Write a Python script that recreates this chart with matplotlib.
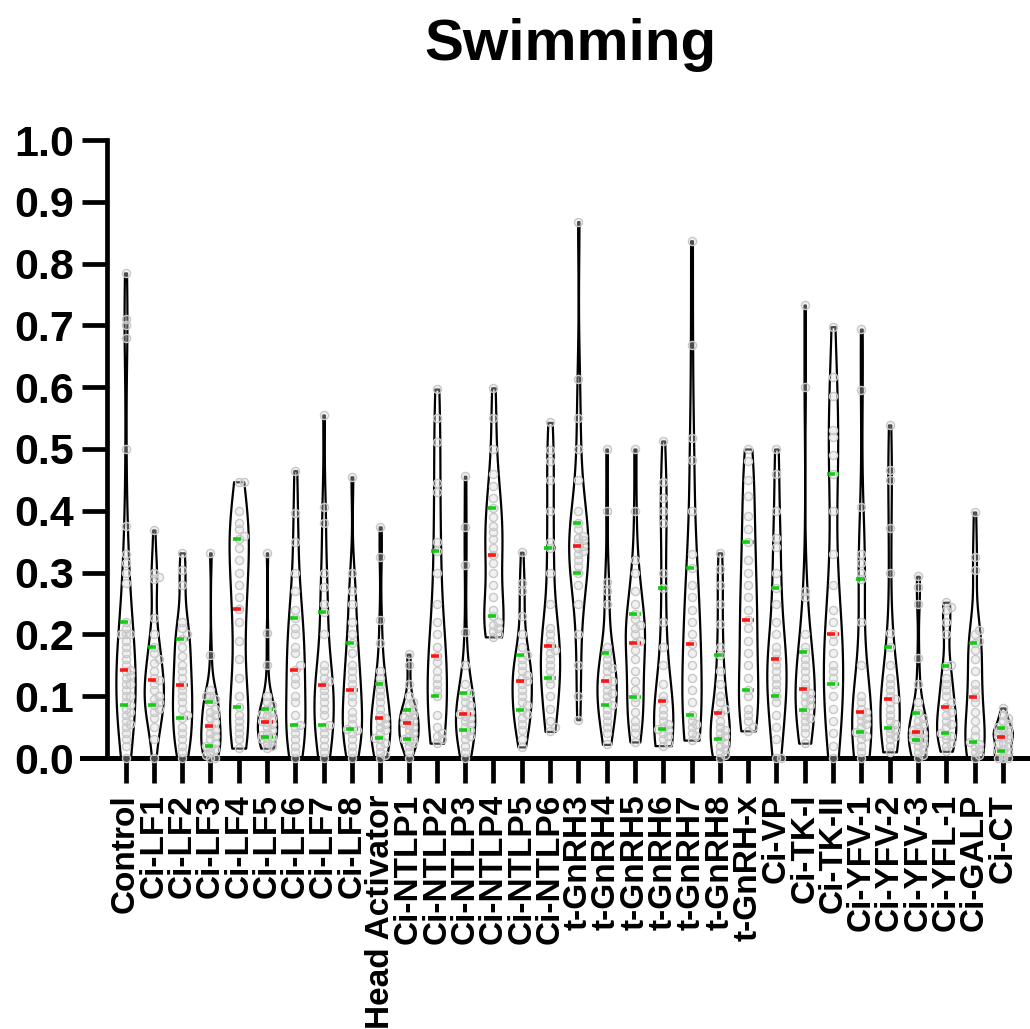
import numpy as np
import matplotlib.pyplot as plt

# values (fraction of time swimming)
categories = ['Control', 'Ci-LF1', 'Ci-LF2', 'Ci-LF3', 'Ci-LF4', 'Ci-LF5', 'Ci-LF6',
              'Ci-LF7', 'Ci-LF8', 'Head Activator', 'Ci-NTLP1', 'Ci-NTLP2', 'Ci-NTLP3',
              'Ci-NTLP4', 'Ci-NTLP5', 'Ci-NTLP6', 't-GnRH3', 't-GnRH4', 't-GnRH5',
              't-GnRH6', 't-GnRH7', 't-GnRH8', 't-GnRH-x', 'Ci-VP', 'Ci-TK-I', 'Ci-TK-II',
              'Ci-YFV-1', 'Ci-YFV-2', 'Ci-YFV-3', 'Ci-YFL-1', 'Ci-GALP', 'Ci-CT']

control = [0.0, 0.02, 0.03, 0.04, 0.05, 0.055, 0.06, 0.07, 0.075, 0.08, 0.085,
           0.09, 0.10, 0.10, 0.11, 0.12, 0.12, 0.13, 0.135, 0.14, 0.143,
           0.15, 0.16, 0.17, 0.18, 0.19, 0.20, 0.20, 0.20, 0.21, 0.22,
           0.283, 0.30, 0.315, 0.33, 0.375, 0.50, 0.68, 0.70, 0.71, 0.785]
ci_lf1 = [0.0, 0.03, 0.05, 0.065, 0.075, 0.08, 0.086, 0.09, 0.095, 0.10, 0.11, 0.12, 0.126,
          0.13, 0.14, 0.153, 0.16, 0.17, 0.18, 0.20, 0.226, 0.29, 0.293, 0.30, 0.369]
ci_lf2 = [0.0, 0.01, 0.02, 0.03, 0.04, 0.05, 0.065, 0.07, 0.08, 0.09, 0.10, 0.11, 0.118,
          0.13, 0.14, 0.15, 0.165, 0.18, 0.193, 0.20, 0.21, 0.22, 0.28, 0.304, 0.332]
ci_lf3 = [0.0, 0.0, 0.005, 0.01, 0.015, 0.018, 0.02, 0.025, 0.03, 0.035, 0.04, 0.045, 0.052,
          0.058, 0.065, 0.07, 0.075, 0.08, 0.09, 0.095, 0.10, 0.10, 0.11, 0.167, 0.332]
ci_lf4 = [0.016, 0.03, 0.04, 0.05, 0.06, 0.07, 0.083, 0.10, 0.13, 0.16, 0.19, 0.22, 0.241,
          0.26, 0.28, 0.30, 0.32, 0.34, 0.355, 0.36, 0.37, 0.38, 0.40, 0.447, 0.447]
ci_lf5 = [0.016, 0.02, 0.025, 0.028, 0.03, 0.032, 0.034, 0.038, 0.04, 0.045, 0.05, 0.055, 0.058,
          0.06, 0.065, 0.07, 0.072, 0.075, 0.08, 0.085, 0.09, 0.10, 0.15, 0.202, 0.332]
ci_lf6 = [0.0, 0.01, 0.02, 0.03, 0.04, 0.05, 0.054, 0.07, 0.09, 0.10, 0.12, 0.13, 0.143,
          0.15, 0.17, 0.18, 0.20, 0.21, 0.226, 0.24, 0.27, 0.30, 0.35, 0.396, 0.465]
ci_lf7 = [0.0, 0.01, 0.02, 0.03, 0.04, 0.05, 0.053, 0.07, 0.08, 0.09, 0.10, 0.11, 0.118,
          0.125, 0.13, 0.14, 0.15, 0.20, 0.236, 0.25, 0.277, 0.30, 0.38, 0.406, 0.555]
ci_lf8 = [0.0, 0.01, 0.02, 0.03, 0.04, 0.045, 0.047, 0.055, 0.065, 0.075, 0.09, 0.10, 0.11,
          0.12, 0.13, 0.14, 0.15, 0.17, 0.186, 0.20, 0.22, 0.25, 0.27, 0.30, 0.455]
head_activator = [0.0, 0.005, 0.01, 0.02, 0.025, 0.03, 0.032, 0.04, 0.045, 0.05, 0.055, 0.06,
                  0.065, 0.07, 0.08, 0.09, 0.10, 0.11, 0.12, 0.13, 0.14, 0.186, 0.223, 0.325, 0.374]
ci_ntlp1 = [0.0, 0.01, 0.02, 0.025, 0.028, 0.03, 0.03, 0.035, 0.04, 0.045, 0.05, 0.053, 0.056,
            0.06, 0.063, 0.066, 0.07, 0.075, 0.078, 0.085, 0.09, 0.10, 0.12, 0.15, 0.168]
ci_ntlp2 = [0.024, 0.03, 0.035, 0.04, 0.05, 0.07, 0.10, 0.11, 0.12, 0.13, 0.14, 0.155, 0.165,
            0.18, 0.20, 0.22, 0.25, 0.30, 0.335, 0.35, 0.43, 0.445, 0.512, 0.55, 0.597]
ci_ntlp3 = [0.0, 0.01, 0.02, 0.03, 0.035, 0.04, 0.045, 0.05, 0.055, 0.06, 0.065, 0.068, 0.071,
            0.075, 0.08, 0.085, 0.09, 0.10, 0.105, 0.12, 0.15, 0.204, 0.312, 0.374, 0.456]
ci_ntlp4 = [0.196, 0.20, 0.205, 0.21, 0.215, 0.22, 0.229, 0.24, 0.26, 0.28, 0.30, 0.315, 0.329,
            0.34, 0.355, 0.365, 0.375, 0.39, 0.405, 0.42, 0.44, 0.46, 0.50, 0.55, 0.599]
ci_ntlp5 = [0.018, 0.03, 0.045, 0.055, 0.065, 0.072, 0.078, 0.085, 0.09, 0.10, 0.11, 0.12, 0.125,
            0.13, 0.135, 0.14, 0.15, 0.16, 0.167, 0.18, 0.20, 0.23, 0.27, 0.283, 0.333]
ci_ntlp6 = [0.043, 0.05, 0.06, 0.08, 0.10, 0.12, 0.13, 0.14, 0.15, 0.16, 0.17, 0.175, 0.181,
            0.19, 0.20, 0.21, 0.25, 0.30, 0.34, 0.35, 0.40, 0.45, 0.48, 0.498, 0.543]
t_gnrh3 = [0.062, 0.10, 0.15, 0.20, 0.25, 0.28, 0.30, 0.31, 0.32, 0.33, 0.335, 0.34, 0.343,
           0.348, 0.352, 0.356, 0.36, 0.37, 0.38, 0.40, 0.45, 0.50, 0.55, 0.614, 0.868]
t_gnrh4 = [0.022, 0.04, 0.05, 0.06, 0.07, 0.08, 0.086, 0.09, 0.10, 0.105, 0.11, 0.12, 0.125,
           0.13, 0.14, 0.145, 0.15, 0.16, 0.17, 0.18, 0.25, 0.27, 0.285, 0.40, 0.50]
t_gnrh5 = [0.026, 0.04, 0.05, 0.06, 0.075, 0.09, 0.098, 0.11, 0.125, 0.14, 0.16, 0.175, 0.186,
           0.19, 0.20, 0.21, 0.215, 0.225, 0.233, 0.25, 0.27, 0.30, 0.32, 0.40, 0.50]
t_gnrh6 = [0.02, 0.025, 0.03, 0.035, 0.04, 0.045, 0.047, 0.05, 0.055, 0.06, 0.07, 0.08, 0.092,
           0.10, 0.12, 0.15, 0.18, 0.22, 0.275, 0.30, 0.38, 0.40, 0.42, 0.447, 0.513]
t_gnrh7 = [0.029, 0.035, 0.04, 0.05, 0.055, 0.06, 0.07, 0.09, 0.11, 0.13, 0.15, 0.17, 0.184,
           0.20, 0.22, 0.24, 0.26, 0.28, 0.307, 0.33, 0.40, 0.482, 0.518, 0.668, 0.837]
t_gnrh8 = [0.0, 0.005, 0.01, 0.015, 0.02, 0.025, 0.03, 0.035, 0.04, 0.045, 0.05, 0.06, 0.073,
           0.08, 0.09, 0.10, 0.12, 0.14, 0.167, 0.18, 0.217, 0.25, 0.28, 0.306, 0.332]
t_gnrh_x = [0.044, 0.05, 0.06, 0.07, 0.08, 0.10, 0.11, 0.13, 0.15, 0.17, 0.19, 0.21, 0.223,
            0.24, 0.26, 0.28, 0.30, 0.32, 0.35, 0.37, 0.392, 0.424, 0.45, 0.48, 0.50]
ci_vp = [0.0, 0.0, 0.03, 0.05, 0.07, 0.09, 0.10, 0.11, 0.12, 0.13, 0.14, 0.15, 0.16,
         0.17, 0.18, 0.20, 0.22, 0.25, 0.275, 0.30, 0.342, 0.356, 0.40, 0.46, 0.50]
ci_tk1 = [0.024, 0.04, 0.05, 0.06, 0.065, 0.07, 0.078, 0.085, 0.09, 0.095, 0.10, 0.105, 0.111,
          0.12, 0.13, 0.14, 0.15, 0.16, 0.171, 0.18, 0.20, 0.26, 0.27, 0.60, 0.733]
ci_tk2 = [0.0, 0.02, 0.04, 0.06, 0.08, 0.10, 0.12, 0.13, 0.14, 0.15, 0.17, 0.19, 0.20,
          0.22, 0.24, 0.28, 0.33, 0.40, 0.46, 0.49, 0.52, 0.53, 0.585, 0.617, 0.698]
ci_yfv1 = [0.0, 0.01, 0.02, 0.03, 0.035, 0.04, 0.042, 0.05, 0.055, 0.06, 0.065, 0.07, 0.074,
           0.08, 0.09, 0.10, 0.15, 0.22, 0.29, 0.30, 0.315, 0.33, 0.406, 0.595, 0.694]
ci_yfv2 = [0.01, 0.02, 0.03, 0.035, 0.04, 0.045, 0.049, 0.055, 0.06, 0.07, 0.08, 0.09, 0.095,
           0.10, 0.11, 0.12, 0.13, 0.15, 0.18, 0.202, 0.30, 0.372, 0.45, 0.466, 0.539]
ci_yfv3 = [0.0, 0.005, 0.01, 0.015, 0.02, 0.025, 0.029, 0.03, 0.033, 0.035, 0.038, 0.04, 0.042,
           0.045, 0.05, 0.055, 0.06, 0.065, 0.073, 0.09, 0.12, 0.162, 0.25, 0.277, 0.294]
ci_yfl1 = [0.011, 0.02, 0.025, 0.03, 0.035, 0.038, 0.04, 0.05, 0.055, 0.06, 0.07, 0.075, 0.083,
           0.09, 0.10, 0.11, 0.12, 0.13, 0.149, 0.15, 0.20, 0.22, 0.24, 0.245, 0.252]
ci_galp = [0.0, 0.005, 0.01, 0.015, 0.02, 0.023, 0.026, 0.035, 0.045, 0.06, 0.075, 0.09, 0.099,
           0.11, 0.12, 0.14, 0.16, 0.175, 0.186, 0.19, 0.20, 0.207, 0.304, 0.325, 0.398]
ci_ct = [0.0, 0.0, 0.0, 0.0, 0.005, 0.01, 0.012, 0.015, 0.02, 0.022, 0.025, 0.03, 0.034,
         0.036, 0.038, 0.04, 0.042, 0.045, 0.048, 0.05, 0.055, 0.06, 0.065, 0.07, 0.081]

groups = [control, ci_lf1, ci_lf2, ci_lf3, ci_lf4, ci_lf5, ci_lf6, ci_lf7, ci_lf8,
          head_activator, ci_ntlp1, ci_ntlp2, ci_ntlp3, ci_ntlp4, ci_ntlp5, ci_ntlp6,
          t_gnrh3, t_gnrh4, t_gnrh5, t_gnrh6, t_gnrh7, t_gnrh8, t_gnrh_x, ci_vp,
          ci_tk1, ci_tk2, ci_yfv1, ci_yfv2, ci_yfv3, ci_yfl1, ci_galp, ci_ct]

plt.rcParams['font.family'] = ['Liberation Sans', 'DejaVu Sans']
plt.rcParams['font.weight'] = 'bold'

W, H = 1030, 1029
X0, DX = 125.5, 28.3          # pixel of first category, pixel spacing
Y0, Y1 = 758, 140             # pixel of 0.0 and 1.0


def swarm(vals, diam=7.0):
    '''simple beeswarm offsets (in category units) for sorted values'''
    ppy = Y0 - Y1
    placed = []
    out = []
    step = 0.7 * diam
    for v in vals:
        y = v * ppy
        best, best_d = 0.0, -1
        for k in [0, 1, -1]:
            x = k * step
            d = min([np.hypot(x - px, y - py) for px, py in placed] + [1e9])
            if d >= 0.7 * diam:
                best = x
                break
            if d > best_d:
                best, best_d = x, d
        placed.append((best, y))
        out.append(best / DX)
    return np.array(out)


fig = plt.figure(figsize=(W / 100, H / 100), dpi=100)
ax = fig.add_axes([82 / W, (H - Y0) / H, (W - 82) / W, (Y0 - Y1) / H])

pos = np.arange(len(categories))
vp = ax.violinplot(groups, positions=pos, widths=0.68, bw_method=0.4,
                   showextrema=False, showmedians=False)
for b in vp['bodies']:
    b.set_facecolor('white')
    b.set_edgecolor('black')
    b.set_linewidth(1.6)
    b.set_alpha(1)
    b.set_zorder(2)

for i, g in enumerate(groups):
    g = np.sort(g)
    q1, med, q3 = np.percentile(g, [25, 50, 75])
    ax.scatter(i + swarm(g), g, s=34, facecolor=(0.85, 0.85, 0.85, 0.35),
               edgecolor='#c8c8c8', linewidth=1.0, zorder=3, clip_on=False)
    for q, c in [(q1, '#00c800'), (q3, '#00c800'), (med, '#ff0000')]:
        ax.plot([i - 0.2, i + 0.2], [q, q], color=c, lw=2.6, alpha=0.9,
                ls=(0, (2.2, 0.8)), zorder=4, solid_capstyle='butt')

ax.set_xlim((82 - X0) / DX, (W - X0) / DX)
ax.set_ylim(0, 1)
ax.set_yticks(np.arange(0, 1.01, 0.1))
ax.set_yticklabels([f'{t:.1f}' for t in np.arange(0, 1.01, 0.1)])
ax.set_xticks(pos)
ax.set_xticklabels(categories, rotation=90)

for s in ['top', 'right']:
    ax.spines[s].set_visible(False)
ax.spines['left'].set_position(('data', (107 - X0) / DX))
ax.spines['left'].set_linewidth(3.4)
ax.spines['bottom'].set_linewidth(3.6)
ax.tick_params(axis='both', length=18, width=3.4, direction='out')
ax.tick_params(axis='y', labelsize=31, pad=6)
ax.tick_params(axis='x', labelsize=24, pad=8)

fig.text(570 / W, (H - 60) / H, 'Swimming', ha='center', va='baseline',
         fontsize=42, fontweight='bold')

fig.savefig('out.png', dpi=100)
